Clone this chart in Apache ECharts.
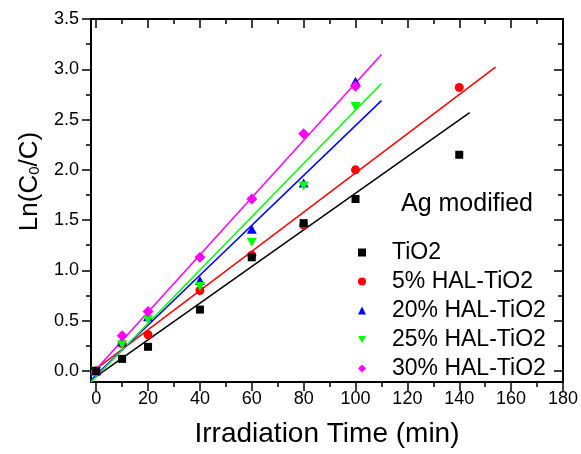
<!DOCTYPE html>
<html>
<head>
<meta charset="utf-8">
<script src="https://cdn.jsdelivr.net/npm/echarts@6/dist/echarts.min.js"></script>
<style>
  html, body { margin: 0; padding: 0; background: #fff; }
  #main { width: 581px; height: 454px; }
</style>
</head>
<body>
<div id="main"></div>
<script>
// irradiation times (min)
var timeAll = [0, 10, 20, 40, 60, 80, 100, 140];
var time100 = [0, 10, 20, 40, 60, 80, 100];

// Ln(C0/C) per sample
var valTiO2 = [0, 0.12, 0.24, 0.61, 1.13, 1.47, 1.71, 2.15];
var val5 = [0, 0.27, 0.36, 0.80, 1.15, 1.45, 2.00, 2.82];
var val20 = [0, 0.29, 0.54, 0.90, 1.41, 1.87, 2.88];
var val25 = [0, 0.26, 0.51, 0.84, 1.28, 1.84, 2.63];
var val30 = [0, 0.35, 0.59, 1.13, 1.71, 2.36, 2.83];

// linear fits: slope, intercept, last x of the fitted line
var fitSlope = [0.01821, 0.0195, 0.0248, 0.0265, 0.02846];
var fitIntercept = [-0.054, 0.019, -0.04, -0.057, 0.017];
var fitEnd = [144, 154, 110, 110, 110];

var names = ['TiO2', '5% HAL-TiO2', '20% HAL-TiO2', '25% HAL-TiO2', '30% HAL-TiO2'];
var colors = ['#000000', '#ff0000', '#0000ff', '#00ff00', '#ff00ff'];

// axis ticks
var xMajor = [0, 20, 40, 60, 80, 100, 120, 140, 160, 180];
var xMinor = [10, 30, 50, 70, 90, 110, 130, 150, 170];
var yMajor = [0, 0.5, 1.0, 1.5, 2.0, 2.5, 3.0, 3.5];
var yMinor = [0.25, 0.75, 1.25, 1.75, 2.25, 2.75, 3.25];

var xMin = -2, xMax = 180, yMin = -0.11, yMax = 3.5;
var font = 'Liberation Sans, Arial, sans-serif';

var chart = echarts.init(document.getElementById('main'));

function pairs(xs, ys) {
    var out = [];
    for (var i = 0; i < ys.length; i++) {
        out.push([xs[i], ys[i]]);
    }
    return out;
}

// one x axis or y axis, used for major and minor ticks on every side
function xAxisCfg(pos, ticks, len, inside, labels, name) {
    return {
        type: 'value', position: pos, min: xMin, max: xMax,
        name: name || '', nameLocation: 'middle', nameGap: 38,
        nameTextStyle: { fontSize: 28, fontFamily: font, color: '#000' },
        axisLine: { show: true, onZero: false, lineStyle: { color: '#000', width: 2 } },
        axisTick: { show: true, inside: inside, length: len, customValues: ticks, lineStyle: { color: '#000', width: 1.5 } },
        axisLabel: { show: labels, customValues: ticks, fontSize: 18, fontFamily: font, color: '#000', margin: 8 },
        splitLine: { show: false }
    };
}
function yAxisCfg(pos, ticks, len, inside, labels, name) {
    return {
        type: 'value', position: pos, min: yMin, max: yMax,
        name: name || '', nameLocation: 'middle', nameGap: 48, nameRotate: 90,
        nameTextStyle: {
            fontSize: 26, fontFamily: font, color: '#000', padding: [0, 0, 0, 38],
            rich: { sub: { fontSize: 15, fontFamily: font, color: '#000', padding: [10, 0, 0, 0] } }
        },
        axisLine: { show: true, onZero: false, lineStyle: { color: '#000', width: 2 } },
        axisTick: { show: true, inside: inside, length: len, customValues: ticks, lineStyle: { color: '#000', width: 1.5 } },
        axisLabel: {
            show: labels, customValues: ticks, fontSize: 18, fontFamily: font, color: '#000', margin: 12,
            formatter: function (v) { return v.toFixed(1); }
        },
        splitLine: { show: false }
    };
}

var symbols = [
    'rect',
    'circle',
    'triangle',
    'path://M0,0 L10,0 L5,9 Z',
    'diamond'
];
var symbolSizes = [8, 9, [10, 9], [10, 9], 11];
var zOrder = [6, 2, 3, 4, 5];

var pointData = [
    pairs(timeAll, valTiO2),
    pairs(timeAll, val5),
    pairs(time100, val20),
    pairs(time100, val25),
    pairs(time100, val30)
];

var series = [];
for (var i = 0; i < names.length; i++) {
    series.push({
        name: names[i],
        type: 'line',
        xAxisIndex: 0, yAxisIndex: 0,
        data: [
            [xMin, fitIntercept[i] + fitSlope[i] * xMin],
            [fitEnd[i], fitIntercept[i] + fitSlope[i] * fitEnd[i]]
        ],
        symbol: 'none',
        silent: true,
        z: 1,
        lineStyle: { color: colors[i], width: 1.5 },
        legendHoverLink: false
    });
}
for (var j = 0; j < names.length; j++) {
    series.push({
        name: names[j],
        type: 'scatter',
        xAxisIndex: 0, yAxisIndex: 0,
        data: pointData[j],
        symbol: symbols[j],
        symbolSize: symbolSizes[j],
        z: zOrder[j],
        itemStyle: { color: colors[j], opacity: 1 }
    });
}

var option = {
    animation: false,
    backgroundColor: '#fff',
    title: {
        text: 'Ag modified',
        left: 396, top: 187,
        textStyle: { fontSize: 25, fontWeight: 'normal', fontFamily: font, color: '#000' }
    },
    legend: {
        orient: 'vertical',
        left: 353, top: 236,
        itemWidth: 8, itemHeight: 8, itemGap: 6,
        data: names.map(function (n, k) {
            return { name: n, icon: symbols[k], itemStyle: { color: colors[k] } };
        }),
        textStyle: { fontSize: 23, lineHeight: 23, fontFamily: font, color: '#000', padding: [0, 0, 0, 21] },
        selectedMode: false
    },
    grid: { left: 91, right: 18, top: 19, bottom: 72, containLabel: false },
    xAxis: [
        xAxisCfg('bottom', xMajor, 9, false, true, 'Irradiation Time (min)'),
        xAxisCfg('bottom', xMinor, 5, false, false),
        xAxisCfg('top', xMajor, 9, true, false),
        xAxisCfg('top', xMinor, 5, true, false)
    ],
    yAxis: [
        yAxisCfg('left', yMajor, 9, false, true, 'Ln(C{sub|0}/C)'),
        yAxisCfg('left', yMinor, 5, false, false),
        yAxisCfg('right', yMajor, 9, true, false),
        yAxisCfg('right', yMinor, 5, true, false)
    ],
    series: series
};

chart.setOption(option);
</script>
</body>
</html>
